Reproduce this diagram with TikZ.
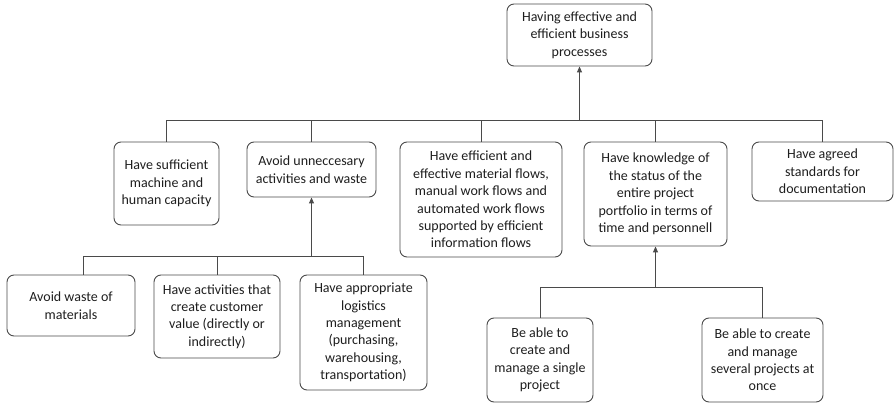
\documentclass[tikz,border=0pt]{standalone}
\usepackage{fontspec}
\setmainfont{Carlito}
\usetikzlibrary{arrows.meta}
\definecolor{edge}{HTML}{4A4A4A}
\definecolor{ink}{HTML}{1E1E1E}
\tikzset{
  goal/.style={draw=edge, line width=0.9pt, rounded corners=7pt, align=center,
    inner sep=0pt, text=ink,
    font=\fontsize{14}{17.4}\selectfont},
  link/.style={draw=edge, line width=0.9pt},
  up/.style={link, -{Triangle[width=5pt,length=6pt]}},
}
\newcommand{\goalbox}[6]{% name, cx, cy, width, height, text
  \node[goal, minimum width=#4pt, minimum height=#5pt] (#1) at (#2,#3) {#6};}
\begin{document}
\begin{tikzpicture}[x=1pt,y=-1pt]
\useasboundingbox (0,0) rectangle (894,403);
% top goal
\goalbox{top}{579.5}{35}{145}{62}{Having effective and\\efficient business\\processes}
% second level
\goalbox{cap}{166.5}{183.5}{105}{83}{Have sufficient\\machine and\\human capacity}
\goalbox{waste}{311.5}{169.5}{129}{55}{Avoid unneccesary\\activities and waste}
\goalbox{flows}{481}{199.5}{162}{115}{Have efficient and\\effective material flows,\\manual work flows and\\automated work flows\\supported by efficient\\information flows}
\goalbox{know}{655.5}{194}{143}{104}{Have knowledge of\\the status of the\\entire project\\portfolio in terms of\\time and personnell}
\goalbox{std}{822.5}{171.5}{141}{59}{Have agreed\\standards for\\documentation}
% third level, left branch
\goalbox{mat}{71}{305.5}{128}{61}{Avoid waste of\\materials}
\goalbox{value}{217}{316.5}{126}{83}{Have activities that\\create customer\\value (directly or\\indirectly)}
\goalbox{logi}{363.5}{332.5}{127}{115}{Have appropriate\\logistics\\management\\(purchasing,\\warehousing,\\transportation)}
% third level, right branch
\goalbox{single}{540}{360}{106}{84}{Be able to\\create and\\manage a single\\project}
\goalbox{several}{762.5}{360}{121}{84}{Be able to create\\and manage\\several projects at\\once}

% junction points of the buses
\coordinate (busT) at (579.5,120);
\coordinate (busL) at (311.5,256);
\coordinate (busR) at (655.5,287);
\coordinate (matTop) at (83,275);

% upper bus
\draw[link] (cap.north) -- (cap.north |- busT) -- (std.north |- busT) -- (std.north);
\draw[link] (waste.north) -- (waste.north |- busT);
\draw[link] (flows.north) -- (flows.north |- busT);
\draw[link] (know.north) -- (know.north |- busT);
\draw[up] (busT) -- (top.south);

% left lower bus
\draw[link] (matTop) -- (matTop |- busL) -- (logi.north |- busL) -- (logi.north);
\draw[link] (value.north) -- (value.north |- busL);
\draw[up] (busL) -- (waste.south);

% right lower bus
\draw[link] (single.north) -- (single.north |- busR) -- (several.north |- busR) -- (several.north);
\draw[up] (busR) -- (know.south);
\end{tikzpicture}
\end{document}
